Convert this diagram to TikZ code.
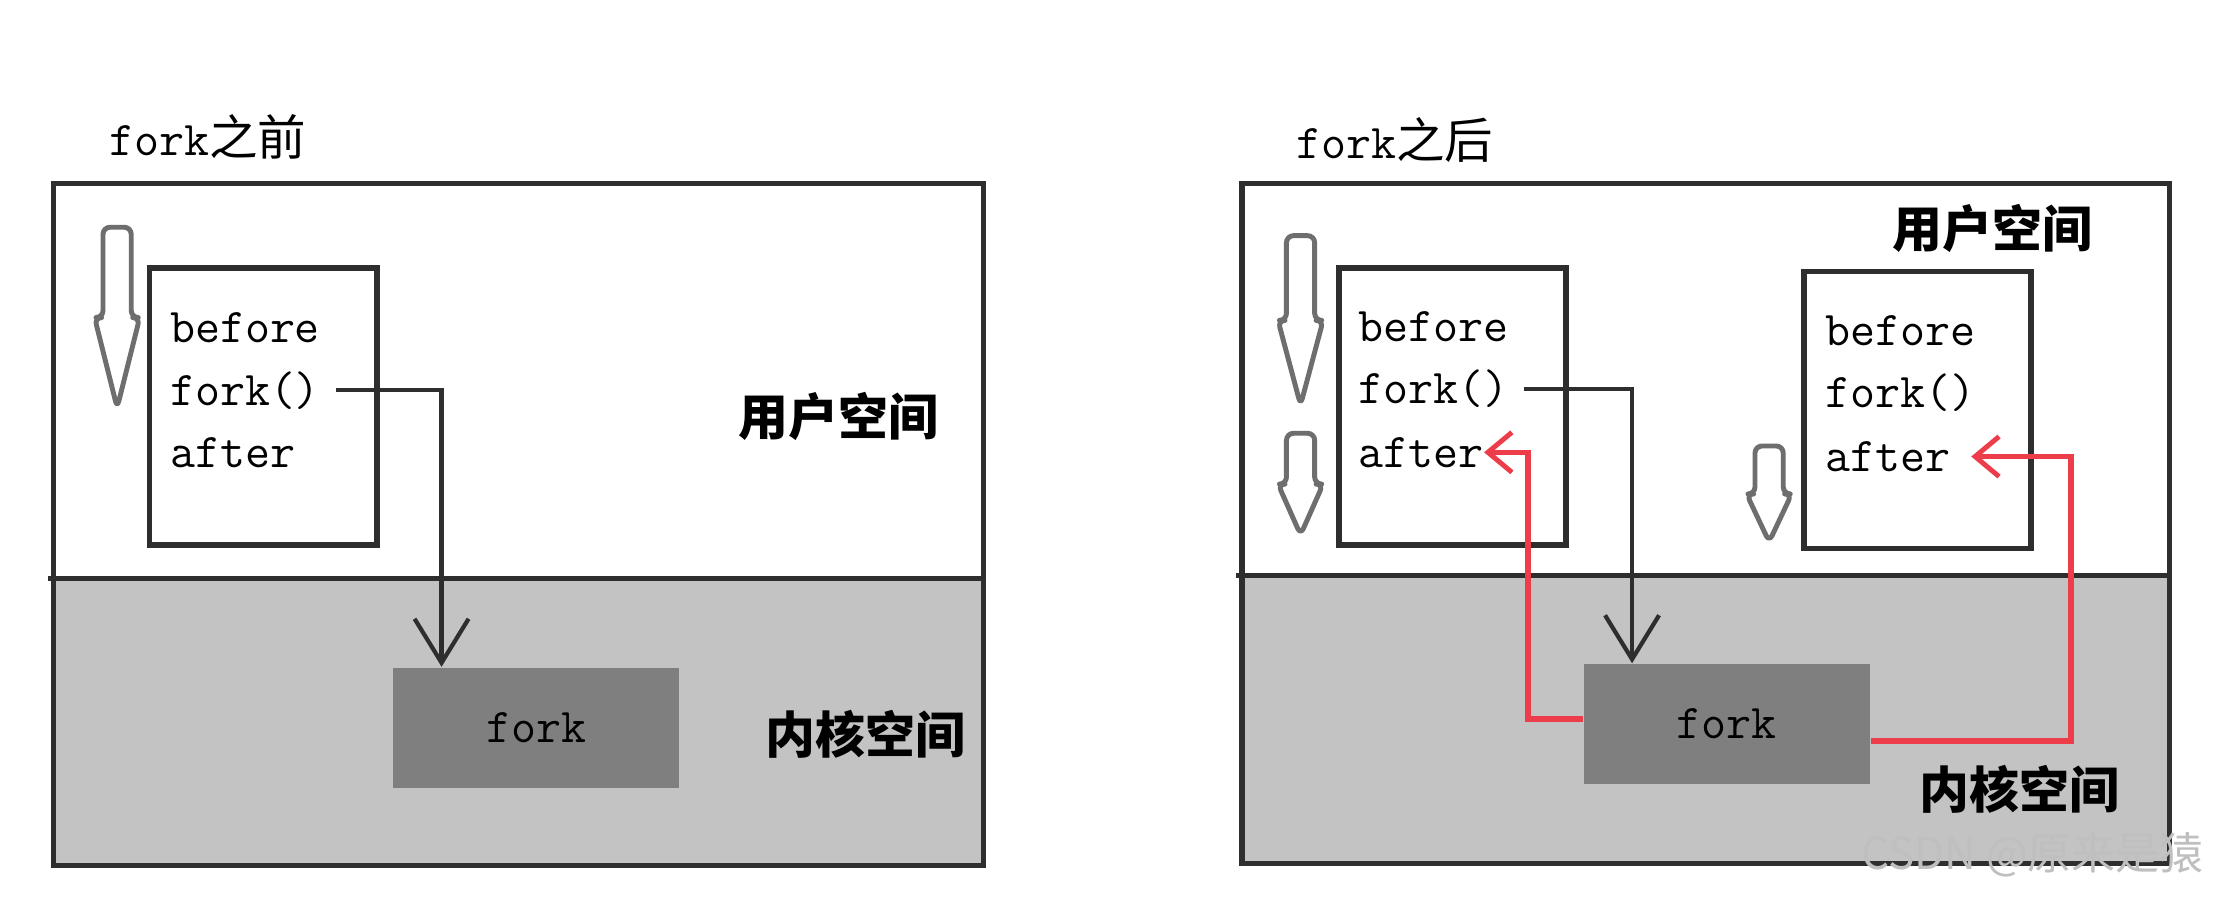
\documentclass[tikz,border=0pt]{standalone}
\usepackage{fontspec}
\usepackage{tikz}
\usetikzlibrary{positioning,arrows.meta,calc}
\newfontfamily\cjk{Noto Sans CJK SC}
\definecolor{kern}{HTML}{C3C3C3}
\definecolor{kbox}{HTML}{7F7F7F}
\definecolor{edge}{HTML}{2E2E2E}
\definecolor{back}{HTML}{EE3D4A}
\definecolor{hollow}{HTML}{6E6E6E}
\tikzset{
  panel/.style={draw=edge,line width=1.5pt},
  code/.style={draw=edge,fill=white,line width=1.6pt,minimum width=22.7mm,minimum height=27.7mm,inner sep=0pt},
  line/.style={anchor=base west,inner sep=0pt,font=\fontsize{13.8}{16}\selectfont\ttfamily},
  kfork/.style={fill=kbox,minimum width=28.6mm,minimum height=12mm,inner sep=0pt,font=\fontsize{13.8}{16}\selectfont\ttfamily},
  space/.style={inner sep=0pt,font=\fontsize{14.2}{16}\selectfont\cjk\bfseries},
  title/.style={anchor=west,inner sep=0pt,font=\fontsize{13.8}{16}\selectfont},
  call/.style={-{Straight Barb[length=4.4mm,width=5.4mm,line width=1.2pt]},line width=1.2pt,edge},
  ret/.style={-{Straight Barb[length=2.4mm,width=4mm,line width=1.4pt]},line width=1.5pt,back},
  hollowarr/.style={draw=hollow,fill=white,line width=1.4pt,line join=round,rounded corners=2pt},
}
% hollow flow arrow: x, top, bottom
\newcommand{\flow}[3]{%
  \draw[hollowarr] ({#1-10},{(#2+#3)/2}) -- ({#1-10},#2) -- ({#1+10},#2) -- ({#1+10},{(#2+#3)/2})
    -- ({#1+16},{(#2+#3)/2}) -- (#1,#3) -- ({#1-16},{(#2+#3)/2}) -- cycle;}

\begin{document}
\begin{tikzpicture}[x=0.1411mm,y=-0.1411mm]
\useasboundingbox (0,0) rectangle (1568,640);
\fill[white] (0,0) rectangle (1568,640);

% before fork
\node[title] (t1) at (77,97) {\ttfamily fork\cjk 之前};
\fill[kern] (38,410) rectangle (697,613);
\draw[panel] (38,130) rectangle (697,613);
\draw[panel] (34,410) -- (697,410);
\node[code] (p1) at (186.5,288) {};
\node[line] (b1) at (120,243) {before};
\node[line] (f1) at (120,287) {fork()};
\node[line] (a1) at (120,331) {after};
\node[kfork] (k1) at (380,515.5) {fork};
\node[space] (u1) at (594,295) {用户空间};
\node[space] (n1) at (613,520) {内核空间};
\flow{83}{161}{289}
\draw[call] ([xshift=1.5mm]f1.east) -| ([xshift=4.9mm]k1.north west);

% after fork
\node[title] (t2) at (918,99) {\ttfamily fork\cjk 之后};
\fill[kern] (880,408) rectangle (1537,612);
\draw[panel] (880,130) rectangle (1537,612);
\draw[panel] (876,408) -- (1537,408);
\node[code] (p2) at (1029,288) {};
\node[line] (b2) at (962,242) {before};
\node[line] (f2) at (962,286) {fork()};
\node[line] (a2) at (962,331) {after};
\node[code] (p3) at (1358.5,290.5) {};
\node[line] (b3) at (1293,245) {before};
\node[line] (f3) at (1293,289) {fork()};
\node[line] (a3) at (1293,334) {after};
\node[kfork] (k2) at (1223.5,513) {fork};
\node[space] (u2) at (1412,162) {用户空间};
\node[space] (n2) at (1431,559) {内核空间};
\flow{921.5}{167}{287}
\flow{921.5}{307}{379}
\flow{1253.5}{316}{384}
\draw[call] ([xshift=1.5mm]f2.east) -| ([xshift=4.9mm]k2.north west);
\draw[ret] ([yshift=0.5mm]k2.west) -- ++(-39,0) |- (a2.east);
\draw[ret] ([yshift=-1.7mm]k2.east) -- ++(142,0) |- ([xshift=2mm]a3.east);

\node[inner sep=0pt,font=\fontsize{12.5}{15}\selectfont\cjk,text=white!75!black] (wm) at (1440,606) {CSDN @原来是猿};
\end{tikzpicture}
\end{document}
